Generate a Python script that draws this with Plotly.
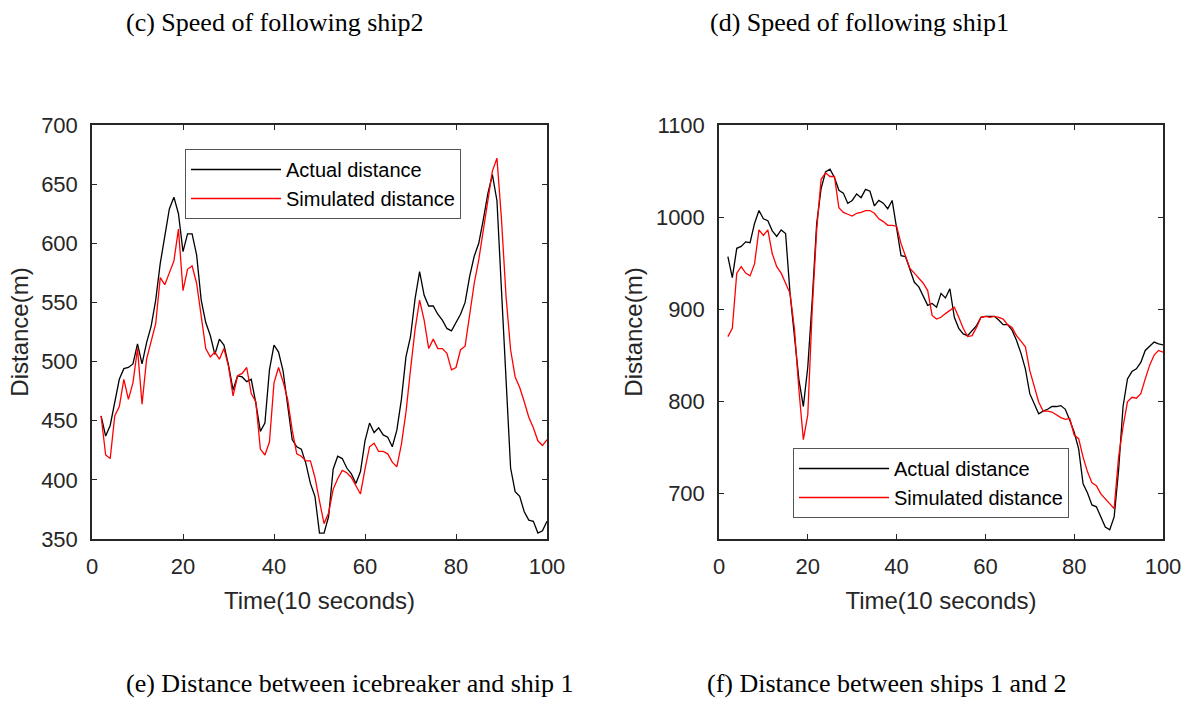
import plotly.graph_objects as go

time = list(range(2, 101))

actual_e = [454, 437, 446, 465, 485, 494, 495, 498, 515, 498, 516, 530, 552, 583, 606, 629, 639, 625, 593,
            608, 608, 590, 552, 533, 522, 506, 519, 514, 497, 476, 488, 487, 483, 485, 465, 441, 448, 493, 514,
            508, 492, 465, 434, 428, 426, 414, 397, 386, 355, 355, 369, 409, 420, 418, 410, 405, 397, 407, 433,
            448, 440, 444, 438, 436, 428, 442, 468, 504, 521, 553, 576, 556, 547, 547, 540, 535, 528, 526, 533,
            540, 550, 572, 589, 600, 620, 642, 658, 636, 560, 480, 410, 390, 386, 373, 366, 365, 355, 357, 365]
simulated_e = [454, 421, 418, 454, 462, 485, 468, 482, 511, 464, 502, 517, 532, 571, 565, 575, 585, 612, 560,
               578, 581, 566, 538, 511, 504, 508, 502, 511, 496, 471, 488, 490, 495, 473, 466, 426, 421, 432, 482,
               495, 483, 468, 442, 422, 420, 416, 416, 402, 382, 363, 372, 392, 401, 408, 406, 402, 395, 388, 409,
               428, 431, 424, 424, 422, 415, 411, 430, 457, 493, 527, 552, 535, 511, 519, 511, 511, 507, 493, 495,
               510, 513, 541, 566, 586, 611, 637, 661, 672, 620, 555, 510, 487, 478, 466, 453, 444, 433, 429, 434]

actual_f = [957, 934, 966, 968, 973, 972, 993, 1007, 998, 996, 985, 979, 986, 982, 917, 870, 823, 794, 837,
            910, 993, 1031, 1049, 1052, 1043, 1029, 1026, 1015, 1018, 1025, 1021, 1030, 1028, 1012, 1018, 1015,
            1009, 1018, 987, 958, 957, 944, 929, 924, 913, 904, 906, 902, 917, 912, 922, 891, 879, 873, 871, 876,
            882, 891, 892, 892, 892, 888, 883, 883, 877, 866, 852, 835, 808, 797, 786, 789, 791, 794, 794, 795,
            791, 779, 766, 748, 710, 700, 687, 685, 674, 663, 660, 674, 725, 794, 824, 832, 835, 842, 855, 859,
            864, 862, 861]
simulated_f = [870, 879, 939, 946, 939, 936, 949, 986, 980, 986, 960, 946, 939, 928, 917, 878, 812, 758, 785,
               900, 986, 1041, 1048, 1044, 1044, 1010, 1005, 1003, 1001, 1004, 1005, 1007, 1007, 1004, 998, 995,
               991, 991, 990, 971, 957, 944, 939, 934, 928, 920, 893, 889, 891, 895, 899, 902, 891, 879, 870, 871,
               880, 891, 892, 891, 892, 891, 889, 883, 880, 871, 865, 859, 833, 815, 799, 789, 789, 788, 785, 782,
               780, 781, 763, 759, 739, 723, 711, 708, 699, 694, 689, 683, 739, 772, 799, 804, 803, 808, 824, 839,
               850, 855, 853]

x_ticks = [0, 20, 40, 60, 80, 100]
y_ticks_e = [350, 400, 450, 500, 550, 600, 650, 700]
y_ticks_f = [700, 800, 900, 1000, 1100]

captions = ["(c) Speed of following ship2", "(d) Speed of following ship1",
            "(e) Distance between icebreaker and ship 1", "(f) Distance between ships 1 and 2"]
series_names = ["Actual distance", "Simulated distance"]

W, H = 1194, 704
SANS = "Liberation Sans, Arial, sans-serif"
SERIF = "Liberation Serif, Times New Roman, serif"
AX = "#262626"

fig = go.Figure()
fig.add_trace(go.Scatter(x=time, y=actual_e, mode="lines", name=series_names[0],
                         line=dict(color="black", width=1.3), xaxis="x", yaxis="y", legend="legend"))
fig.add_trace(go.Scatter(x=time, y=simulated_e, mode="lines", name=series_names[1],
                         line=dict(color="#ff0000", width=1.3), xaxis="x", yaxis="y", legend="legend"))
fig.add_trace(go.Scatter(x=time, y=actual_f, mode="lines", name=series_names[0],
                         line=dict(color="black", width=1.3), xaxis="x2", yaxis="y2", legend="legend2"))
fig.add_trace(go.Scatter(x=time, y=simulated_f, mode="lines", name=series_names[1],
                         line=dict(color="#ff0000", width=1.3), xaxis="x2", yaxis="y2", legend="legend2"))

def xax(domain, anchor):
    return dict(domain=domain, anchor=anchor, range=[0, 100], tickvals=x_ticks, automargin=False,
                showline=True, mirror="ticks", linecolor=AX, linewidth=1.5, ticks="inside",
                ticklen=5, tickcolor=AX, showgrid=False, zeroline=False,
                tickfont=dict(family=SANS, size=22, color=AX), ticklabelstandoff=7,
                title=dict(text="Time(10 seconds)", font=dict(family=SANS, size=24, color=AX), standoff=14))

def yax(domain, anchor, rng, ticks):
    return dict(domain=domain, anchor=anchor, range=rng, tickvals=ticks, automargin=False,
                showline=True, mirror="ticks", linecolor=AX, linewidth=1.5, ticks="inside",
                ticklen=5, tickcolor=AX, showgrid=False, zeroline=False,
                tickfont=dict(family=SANS, size=22, color=AX), ticklabelstandoff=8,
                title=dict(text="Distance(m)", font=dict(family=SANS, size=24, color=AX), standoff=6))

ydom = [(H - 539) / H, (H - 125) / H]
fig.update_layout(
    width=W, height=H, margin=dict(l=0, r=0, t=0, b=0, autoexpand=False),
    paper_bgcolor="white", plot_bgcolor="white",
    xaxis=xax([92 / W, 547 / W], "y"),
    yaxis=yax(ydom, "x", [350, 700], y_ticks_e),
    xaxis2=xax([719 / W, 1163 / W], "y2"),
    yaxis2=yax(ydom, "x2", [650, 1100], y_ticks_f),
    legend=dict(x=185 / W, y=1 - 149 / H, xanchor="left", yanchor="top",
                bordercolor="#555555", borderwidth=1, bgcolor="white",
                font=dict(family=SANS, size=20, color="black"), itemwidth=90),
    legend2=dict(x=793 / W, y=1 - 448 / H, xanchor="left", yanchor="top",
                 bordercolor="#555555", borderwidth=1, bgcolor="white",
                 font=dict(family=SANS, size=20, color="black"), itemwidth=90),
    showlegend=True,
)

cap_pos = [(124, 22), (708, 22), (124, 683), (705, 683)]
for text, (lx, cy) in zip(captions, cap_pos):
    fig.add_annotation(text=text, x=lx / W, y=1 - cy / H, xref="paper", yref="paper",
                       showarrow=False, xanchor="left", yanchor="middle",
                       font=dict(family=SERIF, size=26, color="black"))

fig.write_html("out.html")
